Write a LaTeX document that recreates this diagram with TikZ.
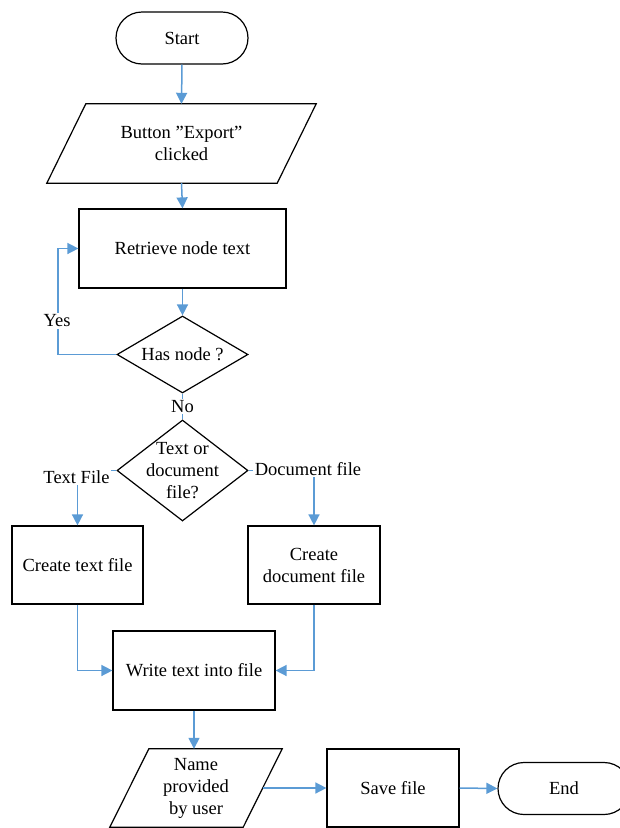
\documentclass[tikz,border=0pt]{standalone}
\usepackage{fontspec}
\setmainfont{Liberation Serif}
\usetikzlibrary{arrows.meta,shapes.geometric}

\definecolor{flowblue}{RGB}{91,155,213}

\tikzset{
  txt/.style={font=\fontsize{18.5}{22}\selectfont, align=center},
  shapeline/.style={draw=black, line width=1.2pt},
  terminal/.style={txt, shapeline, rectangle, rounded corners=26pt, minimum width=132pt, minimum height=52pt, inner sep=0pt},
  process/.style={txt, shapeline, rectangle, inner sep=0pt},
  iobox/.style={txt, rectangle, inner sep=0pt},
  decision/.style={txt, shapeline, diamond, inner sep=0pt},
  flow/.style={draw=flowblue, line width=1.5pt, -{Triangle[length=11pt,width=11pt]}},
  plainflow/.style={draw=flowblue, line width=1.5pt},
  lbl/.style={txt, fill=white, inner sep=1.5pt}
}

\begin{document}
\begin{tikzpicture}[x=1pt,y=1pt]
  \useasboundingbox (0,0) rectangle (620,-828);

  % nodes
  \node[terminal] (start) at (182,-38) {Start};
  \node[iobox, minimum width=230pt, minimum height=79pt] (btn) at (181.5,-143.5) {Button ”Export”\\clicked};
  \node[process, minimum width=207pt, minimum height=79pt] (retr) at (182.5,-248.5) {Retrieve node text};
  \node[decision, minimum width=131pt, minimum height=77pt, aspect=1.7] (has) at (182.5,-354.5) {Has node ?};
  \node[decision, minimum width=131pt, minimum height=101pt,
        label={[txt]center:Text or\\document\\file?}] (tod) at (182.5,-470.5) {};
  \node[process, minimum width=131pt, minimum height=78pt] (ctf) at (77.5,-565) {Create text file};
  \node[process, minimum width=132pt, minimum height=78pt] (cdf) at (314,-565) {Create\\document file};
  \node[process, minimum width=162pt, minimum height=79pt] (wtf) at (194,-670.5) {Write text into file};
  \node[iobox, minimum width=133pt, minimum height=78pt] (name) at (196,-788) {Name\\provided\\by user};
  \node[process, minimum width=132pt, minimum height=78pt] (save) at (393,-788) {Save file};
  \node[terminal] (end) at (564,-788.5) {End};

  % parallelogram outlines of the input nodes
  \draw[shapeline] ([xshift=19.5pt]btn.north west) -- ([xshift=19.5pt]btn.north east)
     -- ([xshift=-19.5pt]btn.south east) -- ([xshift=-19.5pt]btn.south west) -- cycle;
  \draw[shapeline] ([xshift=19.5pt]name.north west) -- ([xshift=19.5pt]name.north east)
     -- ([xshift=-19.5pt]name.south east) -- ([xshift=-19.5pt]name.south west) -- cycle;

  % connectors
  \draw[flow] (start.south) -- (btn.north);
  \draw[flow] (btn.south) -- (retr.north);
  \draw[flow] (retr.south) -- (has.north);
  \draw[flow] (has.west) -- ++(-58.5,0) coordinate (yescorner) |- (retr.west);
  \node[lbl] (yes) at (57,-321) {Yes};
  \draw[plainflow] (has.south) -- node[lbl] (no) {No} (tod.north);
  \draw[flow] (tod.west) -| (ctf.north);
  \node[lbl] (tf) at (76.5,-477) {Text File};
  \draw[flow] (tod.east) -| (cdf.north);
  \node[lbl] (df) at (308,-469) {Document file};
  \draw[flow] (ctf.south) |- (wtf.west);
  \draw[flow] (cdf.south) |- (wtf.east);
  \draw[flow] (wtf.south) -- (wtf.south |- name.north);
  \draw[flow] (name.east) -- (save.west);
  \draw[flow] (save.east) -- (end.west);
\end{tikzpicture}
\end{document}
